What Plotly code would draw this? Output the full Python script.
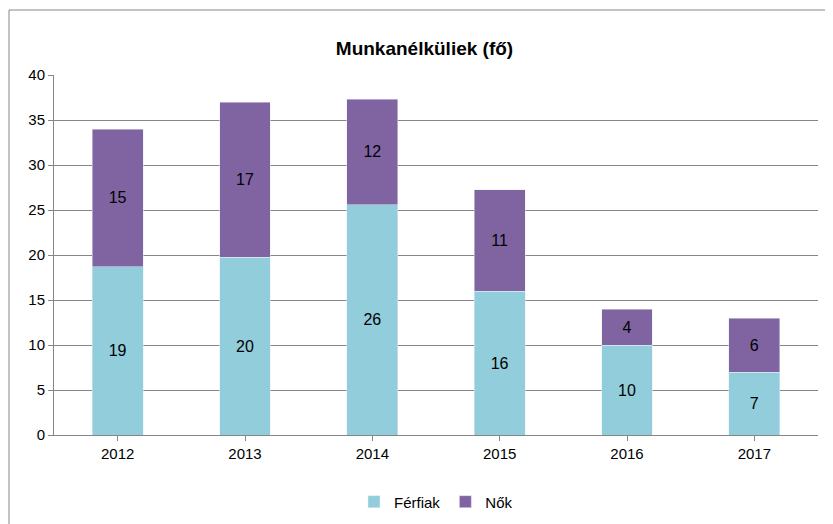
import plotly.graph_objects as go

years = ["2012", "2013", "2014", "2015", "2016", "2017"]
ferfiak = [18.7, 19.75, 25.6, 16.0, 10.0, 7.0]
nok = [15.3, 17.25, 11.7, 11.25, 4.0, 6.0]

W, H = 833, 524
L, R, T, B = 46, 23, 67, 97
pw, ph = W - L - R, H - T - B

fig = go.Figure()
fig.add_bar(x=years, y=ferfiak, name="Férfiak", marker_color="#92CDDC",
            texttemplate="%{y:.0f}", textposition="inside", insidetextanchor="middle",
            textfont=dict(color="black", size=16))
fig.add_bar(x=years, y=nok, name="Nők", marker_color="#8064A2",
            texttemplate="%{y:.0f}", textposition="inside", insidetextanchor="middle",
            textfont=dict(color="black", size=16))

fig.update_layout(
    barmode="stack", bargap=0.6,
    width=W, height=H,
    paper_bgcolor="white", plot_bgcolor="white",
    font=dict(family="Liberation Sans, Arial", size=15, color="black"),
    title=dict(text="<b>Munkanélküliek (fő)</b>", x=0.5, xanchor="center", y=0.935,
               font=dict(size=19)),
    margin=dict(l=L, r=R, t=T, b=B),
    legend=dict(orientation="h", x=0.5, xanchor="center", y=-0.14, yanchor="top",
                font=dict(size=15), traceorder="normal"),
    shapes=[dict(type="rect", xref="paper", yref="paper",
                 x0=(-L + 1) / pw, x1=(pw + R - 2) / pw,
                 y0=(-B + 1) / ph, y1=(ph + T - 2) / ph,
                 line=dict(color="#868686", width=1))],
)
fig.update_yaxes(range=[0, 40], dtick=5, showgrid=True, gridcolor="#868686",
                 linecolor="#868686", showline=True, ticks="outside", tickcolor="#868686",
                 ticklen=5, zeroline=False)
fig.update_xaxes(showline=True, linecolor="#868686", ticks="outside", tickcolor="#868686",
                 ticklen=5)

fig.write_html("out.html")
